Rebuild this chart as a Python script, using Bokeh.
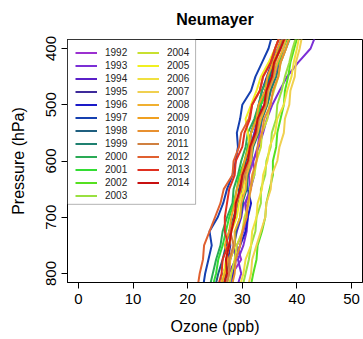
from bokeh.plotting import figure
from bokeh.models import Legend, LegendItem, Range1d, FixedTicker, BoxAnnotation
from bokeh.embed import file_html
from bokeh.resources import INLINE

pressure = [825, 800, 775, 750, 725, 700, 675, 650, 625, 600, 575, 550, 525, 500, 475, 450, 425, 400, 375]

years = [str(y) for y in range(1992, 2015)]

oz_1992 = [27.5, 28.2, 29.8, 29.0, 30.2, 30.8, 30.5, 31.5, 31.2, 32.0, 32.8, 33.2, 33.6, 34.5, 35.2, 35.8, 36.8, 37.5, 38.2]
oz_1993 = [29.0, 29.8, 29.2, 30.2, 30.8, 31.0, 30.6, 31.5, 32.2, 32.0, 33.0, 33.8, 34.5, 35.5, 36.8, 38.2, 40.2, 42.5, 43.5]
oz_1994 = [27.0, 27.5, 28.8, 28.4, 29.0, 29.8, 30.2, 29.8, 30.8, 31.2, 31.5, 32.2, 32.8, 33.4, 34.2, 35.0, 35.6, 36.8, 37.5]
oz_1995 = [26.0, 26.5, 27.4, 27.8, 27.6, 28.8, 29.0, 29.6, 29.8, 30.6, 31.0, 31.6, 32.4, 33.0, 33.6, 34.5, 35.4, 36.0, 37.0]
oz_1996 = [28.0, 28.4, 28.8, 29.6, 30.6, 31.0, 31.6, 31.0, 30.8, 31.6, 31.8, 32.6, 33.0, 33.4, 34.2, 35.0, 35.4, 36.5, 37.5]
oz_1997 = [22.8, 23.2, 23.8, 24.4, 24.0, 25.5, 26.5, 27.2, 28.2, 28.8, 29.2, 29.0, 29.6, 30.0, 31.6, 32.4, 33.6, 34.8, 35.5]
oz_1998 = [25.0, 25.6, 26.4, 27.0, 27.6, 28.4, 29.2, 29.4, 30.2, 30.6, 31.4, 31.6, 32.6, 33.2, 34.2, 35.0, 35.8, 37.0, 38.0]
oz_1999 = [26.5, 27.0, 27.8, 28.6, 28.8, 29.6, 30.0, 30.8, 31.0, 31.6, 32.0, 33.0, 33.6, 34.6, 35.2, 36.2, 37.0, 38.0, 39.0]
oz_2000 = [24.0, 24.6, 25.2, 26.0, 26.4, 27.2, 28.2, 28.4, 29.2, 29.8, 30.6, 31.0, 32.2, 33.0, 33.6, 34.8, 35.6, 36.8, 37.8]
oz_2001 = [24.5, 25.2, 25.6, 26.4, 27.0, 27.6, 28.4, 29.0, 29.4, 30.4, 31.0, 31.6, 32.6, 33.4, 34.6, 35.4, 36.6, 37.5, 38.5]
oz_2002 = [31.5, 32.0, 32.6, 32.8, 33.6, 34.2, 34.4, 35.0, 35.6, 35.6, 36.2, 36.4, 37.0, 37.6, 37.8, 38.4, 38.8, 39.5, 40.2]
oz_2003 = [30.0, 30.6, 31.2, 31.6, 32.4, 32.6, 33.4, 33.4, 34.2, 34.4, 35.2, 35.4, 36.2, 36.4, 37.2, 37.8, 38.6, 39.2, 40.0]
oz_2004 = [27.5, 28.0, 28.6, 29.0, 30.0, 30.4, 31.2, 31.4, 32.2, 32.6, 33.4, 33.6, 34.6, 35.0, 35.8, 36.6, 37.0, 38.0, 38.8]
oz_2005 = [26.0, 26.6, 27.0, 27.6, 28.0, 29.0, 29.4, 30.2, 30.4, 31.4, 31.4, 31.0, 30.6, 31.6, 32.6, 33.4, 34.8, 36.0, 37.0]
oz_2006 = [29.5, 30.2, 30.6, 31.6, 31.8, 32.6, 32.8, 33.6, 33.8, 34.6, 35.0, 36.0, 36.4, 37.6, 38.2, 39.0, 39.4, 40.0, 40.5]
oz_2007 = [31.0, 31.6, 31.8, 32.6, 33.4, 34.2, 34.4, 35.2, 35.4, 36.4, 36.8, 37.6, 37.8, 38.6, 38.8, 39.6, 39.8, 40.5, 41.0]
oz_2008 = [27.0, 27.6, 27.8, 28.6, 28.6, 29.6, 29.8, 30.6, 30.8, 31.6, 31.8, 32.8, 33.4, 34.4, 34.8, 35.8, 36.4, 37.5, 38.2]
oz_2009 = [26.0, 26.8, 27.4, 26.8, 27.6, 28.0, 28.6, 29.0, 29.8, 30.4, 31.2, 31.6, 32.6, 33.0, 34.2, 34.6, 35.6, 36.5, 37.5]
oz_2010 = [28.0, 28.6, 28.8, 29.6, 30.0, 30.8, 31.0, 31.6, 31.8, 32.6, 32.8, 33.6, 34.0, 35.2, 35.6, 36.6, 37.0, 38.0, 38.8]
oz_2011 = [27.0, 27.6, 27.6, 28.4, 27.8, 28.6, 29.0, 29.8, 30.4, 31.2, 31.6, 32.6, 33.0, 34.2, 34.6, 35.6, 36.0, 37.0, 37.8]
oz_2012 = [21.8, 22.2, 22.8, 23.0, 24.0, 25.0, 26.0, 26.6, 28.2, 28.4, 29.4, 29.8, 31.2, 31.8, 33.2, 33.8, 35.2, 36.0, 37.0]
oz_2013 = [25.5, 26.2, 26.4, 27.4, 26.8, 26.8, 27.2, 27.6, 28.6, 28.8, 30.0, 30.4, 31.4, 31.8, 33.2, 33.8, 35.2, 36.0, 37.0]
oz_2014 = [26.5, 27.2, 27.0, 27.6, 28.0, 28.6, 28.8, 29.6, 30.0, 31.0, 31.4, 32.4, 32.8, 34.0, 34.4, 35.4, 35.8, 37.0, 38.0]

ozone = [oz_1992, oz_1993, oz_1994, oz_1995, oz_1996, oz_1997, oz_1998, oz_1999,
         oz_2000, oz_2001, oz_2002, oz_2003, oz_2004, oz_2005, oz_2006, oz_2007,
         oz_2008, oz_2009, oz_2010, oz_2011, oz_2012, oz_2013, oz_2014]

colors = ["#9B30D0", "#7B2FD6", "#5A20C8", "#3D2A9A", "#1A1AC8", "#1540B0", "#1F5F7F",
          "#1F8070", "#2AAA55", "#33DD33", "#55E020", "#99E040", "#C8E030", "#F0F020",
          "#F0E040", "#F0D050", "#F0B030", "#F0A020", "#E89030", "#D08040", "#E06030",
          "#E03020", "#C81010"]

x_ticks = [0, 10, 20, 30, 40, 50]
y_ticks = [400, 500, 600, 700, 800]

FONT = "Liberation Sans"

p = figure(width=363, height=339, output_backend="svg", toolbar_location=None,
           x_range=Range1d(-2, 52), y_range=Range1d(816, 384),
           min_border_left=67, min_border_right=1, min_border_top=0, min_border_bottom=57,
           title="Neumayer")
p.title.align = "center"
p.title.text_font = FONT
p.title.text_font_size = "16px"
p.title.text_font_style = "bold"
p.title.text_color = "black"
p.title.standoff = 20
p.title.vertical_align = "top"

p.background_fill_color = "white"
p.border_fill_color = "white"
p.outline_line_color = "black"
p.outline_line_width = 1
p.xgrid.visible = False
p.ygrid.visible = False

items = []
for yr, vals, c in zip(years, ozone, colors):
    r = p.line(vals, pressure, line_color=c, line_width=2)
    items.append(LegendItem(label=yr, renderers=[r]))

# legend frame (upper-left box)
box = BoxAnnotation(left=None, top=None, right=21.45, bottom=677,
                    fill_color="white", fill_alpha=1.0,
                    line_color="black", line_width=1, level="annotation")
p.add_layout(box)

common = dict(label_text_font=FONT, label_text_font_size="10px",
              label_text_color="#222222",
              glyph_width=22, glyph_height=13, label_height=13,
              label_standoff=8, spacing=0, padding=0, margin=0,
              border_line_color=None, background_fill_alpha=0.0,
              orientation="vertical")
leg1 = Legend(items=items[:12], location=(8, 80), **common)
leg2 = Legend(items=items[12:], location=(70, 93), **common)
p.add_layout(leg1)
p.add_layout(leg2)

for ax in (p.xaxis[0], p.yaxis[0]):
    ax.axis_line_color = "black"
    ax.major_tick_line_color = "black"
    ax.major_tick_out = 6
    ax.major_tick_in = 0
    ax.minor_tick_line_color = None
    ax.major_label_text_font = FONT
    ax.major_label_text_font_size = "15px"
    ax.major_label_text_color = "black"
    ax.axis_label_text_font = FONT
    ax.axis_label_text_font_size = "16px"
    ax.axis_label_text_font_style = "normal"
    ax.axis_label_text_color = "black"

p.xaxis.ticker = FixedTicker(ticks=x_ticks)
p.yaxis.ticker = FixedTicker(ticks=y_ticks)
p.xaxis.axis_label = "Ozone (ppb)"
p.yaxis.axis_label = "Pressure (hPa)"
p.yaxis.major_label_orientation = "vertical"
p.xaxis.major_label_standoff = 5
p.yaxis.major_label_standoff = 6
p.xaxis.axis_label_standoff = 11
p.yaxis.axis_label_standoff = 16

open("out.html", "w").write(file_html(p, INLINE))
